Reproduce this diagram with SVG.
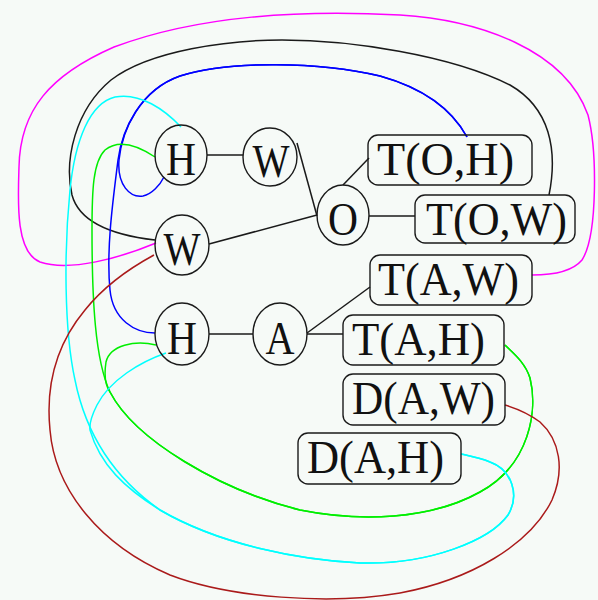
<svg xmlns="http://www.w3.org/2000/svg" width="598" height="600" viewBox="0 0 598 600">
  <style>
    .bg { fill: #f6faf7; }
    .node ellipse, .node rect { fill: none; stroke: #1a1a1a; stroke-width: 1.4; }
    .node text { font-family: "Liberation Serif", "Times New Roman", serif; font-size: 47px; fill: #111; }
    .node ellipse + text { text-anchor: middle; }
    .edges path, .edges line { fill: none; stroke-width: 1.5; }
    .k { stroke: #1a1a1a; stroke-width: 1.4; }
    .mag { stroke: #ff00ff; }
    .blu { stroke: #0000ff; }
    .grn { stroke: #00ee00; }
    .cyn { stroke: #00ffff; }
    .red { stroke: #aa1a1a; }
  </style>
  <rect class="bg" x="0" y="0" width="598" height="600"/>

  <!-- connectors -->
  <g id="edges" class="edges">
    <!-- straight structure links -->
    <line class="k" x1="207" y1="155" x2="243" y2="155"/>
    <line class="k" x1="297" y1="143" x2="317" y2="216"/>
    <line class="k" x1="209" y1="244" x2="317" y2="215"/>
    <line class="k" x1="343" y1="185" x2="369" y2="158"/>
    <line class="k" x1="369" y1="216" x2="415" y2="216"/>
    <line class="k" x1="209" y1="334" x2="253" y2="334"/>
    <line class="k" x1="307" y1="333" x2="370" y2="287"/>
    <line class="k" x1="307" y1="334" x2="343" y2="334"/>

    <!-- W — T(O,W) -->
    <path class="k" d="M155,240 C120,236 80,225 72,195 C64,160 75,110 111,80 C150,50 230,40 282,40 C350,40 450,55 510,85 C550,108 558,150 549,195"/>
    <!-- W — T(A,W) -->
    <path class="mag" d="M156,243 C120,258 70,272 40,262 C15,252 18,200 19,167 C20,110 50,75 114,47 C200,15 300,10 400,15 C480,20 565,50 588,115 C597,150 598,235 582,260 C572,272 550,275 532,275"/>
    <!-- T(O,H) — H (upper and lower) -->
    <path class="blu" d="M467,137 C455,115 430,90 380,76 C320,62 230,60 180,76 C140,90 122,130 119,160 C117,185 130,198 143,196 C152,194 160,185 164,177"/>
    <path class="blu" d="M467,137 C455,115 430,90 380,76 C320,62 230,60 180,76 C140,90 122,130 118,160 C113,200 106,250 110,290 C113,320 135,333 155,333"/>
    <!-- H — T(A,H) -->
    <path class="grn" d="M155,157 C140,147 120,138 105,150 C93,162 92,190 92,230 C92,300 95,360 110,392 C135,440 220,490 300,510 C360,522 430,520 480,492 C530,465 538,410 530,378 C525,362 512,352 505,345"/>
    <path class="grn" d="M156,345 C135,340 110,345 106,362 C104,375 105,385 110,392 C135,440 220,490 300,510 C360,522 430,520 480,492 C530,465 538,410 530,378 C525,362 512,352 505,345"/>
    <!-- H — D(A,H) -->
    <path class="cyn" d="M181,127 C165,110 140,92 115,97 C90,103 75,140 70,190 C64,250 64,330 75,380 C85,430 110,475 160,510 C220,545 300,560 360,563 C430,565 490,540 508,515 C520,495 512,470 490,462 C480,458 470,456 461,454"/>
    <path class="cyn" d="M166,353 C140,362 110,380 97,405 C92,415 89,423 90,430 C100,465 125,488 160,510 C220,545 300,560 360,563 C430,565 490,540 508,515 C520,495 512,470 490,462 C480,458 470,456 461,454"/>
    <!-- W — D(A,W) -->
    <path class="red" d="M154,255 C130,268 105,285 85,310 C60,340 45,380 50,430 C55,490 100,545 170,575 C230,598 330,605 400,593 C470,580 530,545 552,500 C565,470 560,440 540,422 C528,413 515,408 505,405"/>
  </g>

  <!-- variable nodes -->
  <g id="H1" class="node"><ellipse cx="181" cy="155" rx="26" ry="30"/><text x="181" y="175" textLength="30" lengthAdjust="spacingAndGlyphs">H</text></g>
  <g id="W1" class="node"><ellipse cx="270" cy="157" rx="27" ry="29"/><text x="271" y="177" textLength="37" lengthAdjust="spacingAndGlyphs">W</text></g>
  <g id="W2" class="node"><ellipse cx="182" cy="245" rx="27" ry="30"/><text x="182" y="265" textLength="37" lengthAdjust="spacingAndGlyphs">W</text></g>
  <g id="O" class="node"><ellipse cx="343" cy="215" rx="26" ry="30"/><text x="343" y="235" textLength="30" lengthAdjust="spacingAndGlyphs">O</text></g>
  <g id="H2" class="node"><ellipse cx="182" cy="334" rx="27" ry="31"/><text x="182" y="354" textLength="30" lengthAdjust="spacingAndGlyphs">H</text></g>
  <g id="A" class="node"><ellipse cx="280" cy="334" rx="27" ry="31"/><text x="280" y="354" textLength="29" lengthAdjust="spacingAndGlyphs">A</text></g>

  <!-- term nodes -->
  <g id="TOH" class="node"><rect x="368" y="135" width="164" height="50" rx="10"/><text x="377" y="175" textLength="137" lengthAdjust="spacingAndGlyphs">T(O,H)</text></g>
  <g id="TOW" class="node"><rect x="415" y="195" width="160" height="48" rx="10"/><text x="426" y="235" textLength="141" lengthAdjust="spacingAndGlyphs">T(O,W)</text></g>
  <g id="TAW" class="node"><rect x="370" y="255" width="162" height="50" rx="10"/><text x="378" y="295" textLength="141" lengthAdjust="spacingAndGlyphs">T(A,W)</text></g>
  <g id="TAH" class="node"><rect x="343" y="315" width="161" height="50" rx="10"/><text x="352" y="355" textLength="133" lengthAdjust="spacingAndGlyphs">T(A,H)</text></g>
  <g id="DAW" class="node"><rect x="343" y="374" width="162" height="51" rx="10"/><text x="352" y="414" textLength="143" lengthAdjust="spacingAndGlyphs">D(A,W)</text></g>
  <g id="DAH" class="node"><rect x="298" y="433" width="163" height="51" rx="10"/><text x="307" y="473" textLength="137" lengthAdjust="spacingAndGlyphs">D(A,H)</text></g>
</svg>
